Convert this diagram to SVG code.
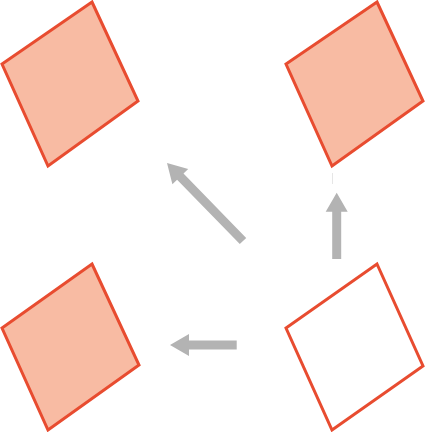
<svg xmlns="http://www.w3.org/2000/svg" width="425" height="432" viewBox="0 0 425 432">
<style>
.sq{stroke:#e84c30;stroke-width:3;stroke-linejoin:miter}
.filled{fill:#f8bba3}
.empty{fill:#ffffff}
.arr{fill:#b3b3b3}
.faint{stroke:#e6e6e6;stroke-width:1}
</style>
<rect width="425" height="432" fill="#ffffff"/>
<g id="node-top-left"><polygon class="sq filled" points="92,2 138,101 48,166 2,64"/></g>
<g id="node-top-right"><polygon class="sq filled" points="377,2 423,101 332,166 286,64"/></g>
<g id="node-bottom-left"><polygon class="sq filled" points="92,264 139,365 48,430 2,328"/></g>
<g id="node-bottom-right"><polygon class="sq empty" points="377,264 423,366 332,430 286,328"/></g>
<g id="connectors">
<line class="faint" x1="332.5" y1="173" x2="332.5" y2="184"/>
<polygon class="arr" points="332.2,259 341.2,259 341.2,211.7 347.7,211.7 336.7,192.7 325.7,211.7 332.2,211.7"/>
<polygon class="arr" points="236.7,340.5 236.7,349.5 189,349.5 189,356 170,345 189,334 189,340.5"/>
<polygon class="arr" points="246.2,237.9 239.8,244.1 177.1,179.7 172.4,184.3 167,163 188.2,168.9 183.5,173.5"/>
</g>
</svg>
